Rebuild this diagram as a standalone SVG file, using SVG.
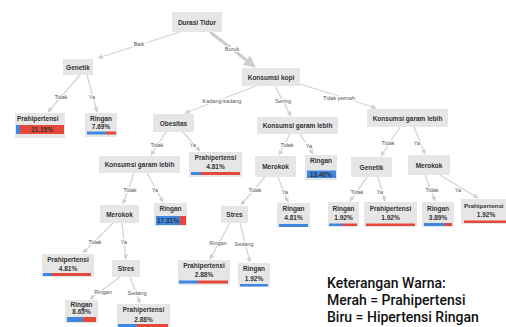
<svg xmlns="http://www.w3.org/2000/svg" width="506" height="327" viewBox="0 0 506 327">
<defs>
<marker id="ah" viewBox="0 0 10 10" refX="9" refY="5" markerWidth="5" markerHeight="5" orient="auto" markerUnits="userSpaceOnUse"><path d="M0,0 L10,5 L0,10 z" fill="#cfcfcf"/></marker>
<marker id="ahb" viewBox="0 0 10 10" refX="8" refY="5" markerWidth="4" markerHeight="4" orient="auto"><path d="M0,0 L10,5 L0,10 z" fill="#cfcfcf"/></marker>
</defs>
<style>
.n{fill:#e6e6e6}
.t{font-family:"Liberation Sans",Arial,sans-serif;font-size:6.5px;font-weight:bold;fill:#333;text-anchor:middle}
.e{stroke:#d4d4d4;stroke-width:1.3;fill:none;marker-end:url(#ah)}
.ek{stroke:#cccccc;stroke-width:3;fill:none;marker-end:url(#ahb)}
.l{font-family:"Liberation Sans",Arial,sans-serif;font-size:5.5px;fill:#555;text-anchor:middle;stroke:#fff;stroke-width:2;paint-order:stroke}
.b{fill:#3f87e0}
.r{fill:#e5483a}
.lg{font-family:Roboto,"Liberation Sans",sans-serif;font-size:14px;font-weight:500;fill:#111}
</style>
<rect width="506" height="327" fill="#fff"/>
<g id="connectors">
<line class="e" x1="180" y1="32" x2="98" y2="58"/>
<line class="ek" x1="210" y1="32" x2="254" y2="66"/>
<line class="e" x1="80" y1="75" x2="48" y2="112"/>
<line class="e" x1="87" y1="75" x2="97" y2="112"/>
<line class="e" x1="256" y1="86" x2="185" y2="113"/>
<line class="e" x1="275" y1="86" x2="291" y2="116"/>
<line class="e" x1="300" y1="84" x2="376" y2="108"/>
<line class="e" x1="166" y1="132" x2="151" y2="155"/>
<line class="e" x1="183" y1="132" x2="200" y2="151"/>
<line class="e" x1="290" y1="134" x2="279" y2="155"/>
<line class="e" x1="300" y1="134" x2="313" y2="154"/>
<line class="e" x1="400" y1="127" x2="381" y2="156"/>
<line class="e" x1="414" y1="127" x2="425" y2="154"/>
<line class="e" x1="134" y1="173" x2="123" y2="204"/>
<line class="e" x1="147" y1="173" x2="163" y2="202"/>
<line class="e" x1="265" y1="177" x2="241" y2="205"/>
<line class="e" x1="278" y1="177" x2="288" y2="202"/>
<line class="e" x1="367" y1="177" x2="350" y2="201"/>
<line class="e" x1="378" y1="177" x2="385" y2="201"/>
<line class="e" x1="425" y1="175" x2="435" y2="201"/>
<line class="e" x1="440" y1="175" x2="478" y2="198"/>
<line class="e" x1="113" y1="223" x2="83" y2="253"/>
<line class="e" x1="122" y1="223" x2="126" y2="259"/>
<line class="e" x1="230" y1="223" x2="210" y2="259"/>
<line class="e" x1="240" y1="223" x2="250" y2="262"/>
<line class="e" x1="120" y1="277" x2="90" y2="299"/>
<line class="e" x1="130" y1="277" x2="140" y2="303"/>
<text class="l" x="139" y="46">Baik</text>
<text class="l" x="232" y="51">Buruk</text>
<text class="l" x="61" y="99">Tidak</text>
<text class="l" x="92" y="99">Ya</text>
<text class="l" x="222" y="103">Kadang-kadang</text>
<text class="l" x="283" y="103">Sering</text>
<text class="l" x="339" y="100">Tidak pernah</text>
<text class="l" x="157" y="147">Tidak</text>
<text class="l" x="193" y="147">Ya</text>
<text class="l" x="287" y="147">Tidak</text>
<text class="l" x="309" y="148">Ya</text>
<text class="l" x="388" y="145">Tidak</text>
<text class="l" x="417" y="145">Ya</text>
<text class="l" x="130" y="192">Tidak</text>
<text class="l" x="155" y="192">Ya</text>
<text class="l" x="255" y="192">Tidak</text>
<text class="l" x="285" y="194">Ya</text>
<text class="l" x="357" y="194">Tidak</text>
<text class="l" x="380" y="194">Ya</text>
<text class="l" x="432" y="192">Tidak</text>
<text class="l" x="458" y="192">Ya</text>
<text class="l" x="95" y="244">Tidak</text>
<text class="l" x="124" y="244">Ya</text>
<text class="l" x="218" y="245">Ringan</text>
<text class="l" x="244" y="246">Sedang</text>
<text class="l" x="103" y="294">Ringan</text>
<text class="l" x="137" y="295">Sedang</text>
</g>
<g id="durasi-tidur"><rect class="n" x="172" y="12" width="50" height="20"/><text class="t" x="197" y="24.5">Durasi Tidur</text></g>
<g id="genetik-1"><rect class="n" x="63" y="59" width="30" height="16"/><text class="t" x="78" y="69.5">Genetik</text></g>
<g id="konsumsi-kopi"><rect class="n" x="242" y="68" width="58" height="18"/><text class="t" x="271" y="79.5">Konsumsi kopi</text></g>
<g id="obesitas"><rect class="n" x="153" y="114" width="41" height="18"/><text class="t" x="173.5" y="125.5">Obesitas</text></g>
<g id="kgl-mid"><rect class="n" x="257" y="117" width="81" height="17"/><text class="t" x="297.5" y="128">Konsumsi garam lebih</text></g>
<g id="kgl-right"><rect class="n" x="367" y="109" width="81" height="18"/><text class="t" x="407.5" y="120.5">Konsumsi garam lebih</text></g>
<g id="kgl-left"><rect class="n" x="99" y="156" width="81" height="17"/><text class="t" x="139.5" y="167">Konsumsi garam lebih</text></g>
<g id="merokok-mid"><rect class="n" x="255" y="156" width="41" height="21"/><text class="t" x="275.5" y="169">Merokok</text></g>
<g id="genetik-2"><rect class="n" x="351" y="157" width="41" height="20"/><text class="t" x="371.5" y="169.5">Genetik</text></g>
<g id="merokok-right"><rect class="n" x="408" y="155" width="42" height="20"/><text class="t" x="429" y="167.5">Merokok</text></g>
<g id="merokok-left"><rect class="n" x="100" y="205" width="39" height="18"/><text class="t" x="119.5" y="216.5">Merokok</text></g>
<g id="stres-mid"><rect class="n" x="221" y="206" width="27" height="17"/><text class="t" x="234.5" y="217">Stres</text></g>
<g id="stres-left"><rect class="n" x="112" y="260" width="28" height="17"/><text class="t" x="126" y="271">Stres</text></g>
<g id="leaf-prahip-2115"><rect class="n" x="15" y="113" width="50" height="25"/><text class="t" x="17" y="120.5" style="text-anchor:start">Prahipertensi</text><rect class="b" x="16" y="125" width="4" height="9"/><rect class="r" x="20" y="125" width="44" height="9"/><text class="t" x="42" y="132">21.15%</text></g>
<g id="leaf-ringan-769"><rect class="n" x="85" y="113" width="32" height="24"/><text class="t" x="101" y="120.5">Ringan</text><text class="t" x="101" y="128.5">7.69%</text><rect class="b" x="87" y="131.5" width="19" height="3"/><rect class="r" x="106" y="131.5" width="10" height="3"/></g>
<g id="leaf-prahip-481a"><rect class="n" x="189" y="152" width="53" height="25"/><text class="t" x="215.5" y="159.5">Prahipertensi</text><text class="t" x="215.5" y="168.5">4.81%</text><rect class="b" x="191" y="172" width="10" height="3"/><rect class="r" x="201" y="172" width="39" height="3"/></g>
<g id="leaf-ringan-1346"><rect class="n" x="305" y="155" width="32" height="25"/><text class="t" x="321" y="163">Ringan</text><rect class="b" x="307" y="170.5" width="29" height="7.5"/><text class="t" x="321" y="176.5">13.46%</text></g>
<g id="leaf-ringan-1731"><rect class="n" x="154" y="203" width="33" height="23"/><text class="t" x="170.5" y="210.5">Ringan</text><rect class="b" x="156" y="216" width="24" height="9"/><rect class="r" x="180" y="216" width="6" height="9"/><text class="t" x="168" y="223">17.31%</text></g>
<g id="leaf-ringan-481"><rect class="n" x="277" y="203" width="33" height="24"/><text class="t" x="293.5" y="211">Ringan</text><text class="t" x="293.5" y="220">4.81%</text><rect class="b" x="279" y="224" width="29" height="3"/></g>
<g id="leaf-ringan-192a"><rect class="n" x="328" y="202" width="31" height="25"/><text class="t" x="343.5" y="210.5">Ringan</text><text class="t" x="343.5" y="219.5">1.92%</text><rect class="b" x="329" y="223.5" width="14" height="2.5"/><rect class="r" x="343" y="223.5" width="14" height="2.5"/></g>
<g id="leaf-prahip-192a"><rect class="n" x="364" y="202" width="53" height="25"/><text class="t" x="390.5" y="210.5">Prahipertensi</text><text class="t" x="390.5" y="219.5">1.92%</text><rect class="r" x="366" y="223.5" width="49" height="2.5"/></g>
<g id="leaf-ringan-389"><rect class="n" x="422" y="202" width="32" height="25"/><text class="t" x="438" y="210.5">Ringan</text><text class="t" x="438" y="219.5">3.89%</text><rect class="b" x="424" y="223" width="21" height="3"/><rect class="r" x="445" y="223" width="7" height="3"/></g>
<g id="leaf-prahip-192b"><rect class="n" x="461" y="199" width="52" height="25"/><text class="t" x="464" y="207.5" style="text-anchor:start;font-size:6.2px">Prahipertensi</text><text class="t" x="486" y="216.5">1.92%</text><rect class="r" x="464" y="220.5" width="46" height="2.5"/></g>
<g id="leaf-prahip-481b"><rect class="n" x="42" y="254" width="52" height="23"/><text class="t" x="68" y="261.5">Prahipertensi</text><text class="t" x="68" y="270.5">4.81%</text><rect class="b" x="43" y="273" width="9" height="3"/><rect class="r" x="52" y="273" width="39" height="3"/></g>
<g id="leaf-prahip-288a"><rect class="n" x="178" y="260" width="52" height="25"/><text class="t" x="204" y="267.5">Prahipertensi</text><text class="t" x="204" y="277">2.88%</text><rect class="b" x="179" y="280.5" width="19" height="3"/><rect class="r" x="198" y="280.5" width="30" height="3"/></g>
<g id="leaf-ringan-192b"><rect class="n" x="238" y="263" width="32" height="24"/><text class="t" x="254" y="271">Ringan</text><text class="t" x="254" y="280.5">1.92%</text><rect class="b" x="240" y="284" width="28" height="2.5"/></g>
<g id="leaf-ringan-865"><rect class="n" x="65" y="300" width="33" height="23"/><text class="t" x="81.5" y="307">Ringan</text><text class="t" x="81.5" y="314">8.65%</text><rect class="b" x="67" y="317" width="16" height="5"/><rect class="r" x="83" y="317" width="13" height="5"/></g>
<g id="leaf-prahip-288b"><rect class="n" x="117" y="304" width="53" height="25"/><text class="t" x="143.5" y="311.5">Prahipertensi</text><text class="t" x="143.5" y="321.5">2.88%</text><rect class="b" x="118" y="324" width="19" height="3"/><rect class="r" x="137" y="324" width="31" height="3"/></g>
<g id="legend">
<text class="lg" x="327" y="288">Keterangan Warna:</text>
<text class="lg" x="327" y="305">Merah = Prahipertensi</text>
<text class="lg" x="327" y="322">Biru = Hipertensi Ringan</text>
</g>
</svg>
